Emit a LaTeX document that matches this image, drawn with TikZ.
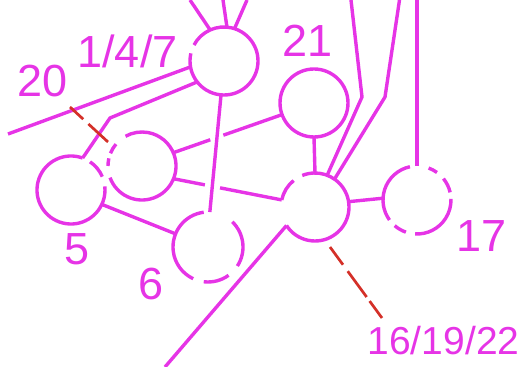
\documentclass[tikz,border=0pt]{standalone}
\usepackage{fontspec}
\setmainfont{Liberation Sans}
\usetikzlibrary{calc}
\definecolor{mag}{RGB}{230,52,230}
\definecolor{redl}{RGB}{212,48,40}
\newcommand{\carc}[4]{\draw[mline] ([shift={(#2:#4pt)}]#1.center) arc[start angle=#2, end angle=#3, radius=#4pt];}
\begin{document}
\begin{tikzpicture}[x=1pt,y=1pt,
  mline/.style={draw=mag,line width=3.4pt},
  circ/.style={circle,minimum size=68pt,inner sep=0pt,outer sep=0pt,draw=none},
  lbl/.style={text=mag,font=\fontsize{45}{50}\selectfont,anchor=base,inner sep=0pt},
  lblsmall/.style={lbl,font=\fontsize{39}{44}\selectfont},
  leader/.style={draw=redl,line width=2.7pt}]
\useasboundingbox (0,0) rectangle (520,367);
% circles (invisible nodes, drawn as arcs)
\node[circ] (c147) at (224,306) {};
\node[circ] (c21) at (314,264) {};
\node[circ] (hub) at (315,160) {};
\node[circ] (c17) at (417,167) {};
\node[circ,minimum size=70pt] (c6) at (208,120) {};
\node[circ] (c5) at (71,177) {};
\node[circ] (c20) at (142,201) {};
\carc{c147}{167}{512}{34}
\draw[mline] (c21.center) circle[radius=34pt];
\carc{hub}{129}{168}{34}
\carc{hub}{213}{472}{34}
\carc{c17}{102}{216}{34}
\carc{c17}{54}{70}{34}
\carc{c17}{13}{39}{34}
\carc{c17}{267}{362}{34}
\carc{c17}{229}{251}{34}
\carc{c6}{97}{245}{35}
\carc{c6}{263}{306}{35}
\carc{c6}{327}{406}{35}
\carc{c5}{70}{366}{34}
\carc{c5}{23}{56}{34}
\carc{c20}{200}{479}{34}
\carc{c20}{140}{158}{34}
\carc{c20}{167}{180}{34}
% free ends
\coordinate (t1) at (190,367);
\coordinate (t2) at (223,367);
\coordinate (t3) at (247,367);
\coordinate (lft) at (8,233);
\coordinate (bend5) at (110,249);
\coordinate (tA) at (351,367);
\coordinate (bA) at (362,270);
\coordinate (tB) at (399.5,367);
\coordinate (bB) at (385,270);
\coordinate (t17) at (417,367);
\coordinate (bot) at (165,0);
\coordinate (r1a) at (70,260);
\coordinate (r1b) at (108,225);
\coordinate (r2a) at (330,120);
\coordinate (r2b) at (382,49);
% connectors
\draw[mline] (t1) -- (c147.114);
\draw[mline] (t2) -- (c147.85);
\draw[mline] (t3) -- (c147.72);
\draw[mline] (lft) -- (c147.190);
\draw[mline] (c147.218) -- (bend5) -- (c5.70);
\draw[mline] (c147.265) -- (c6.87);
\draw[mline] (c20.23) -- ($(c20.23)!0.34!(c21.200)$);
\draw[mline] ($(c20.23)!0.46!(c21.200)$) -- (c21.200);
\draw[mline] (c20.338) -- ($(c20.338)!0.29!(hub.168)$);
\draw[mline] ($(c20.338)!0.43!(hub.168)$) -- (hub.168);
\draw[mline] (c5.335) -- (c6.158);
\draw[mline] (c21.270) -- (hub.90);
\draw[mline] (tA) -- (bA) -- (hub.69);
\draw[mline] (tB) -- (bB) -- (hub.55);
\draw[mline] (t17) -- (c17.90);
\draw[mline] (hub.9) -- (c17.177);
\draw[mline] (hub.213) -- (bot);
\draw[leader,dash pattern=on 18pt off 7pt on 40pt off 7pt] (r1a) -- (r1b);
\draw[leader,dash pattern=on 22pt off 8pt on 32pt off 5pt on 40pt off 5pt] (r2a) -- (r2b);
% labels
\node[lbl] (l147) at (127.5,299) {1/4/7};
\node[lbl] (l20) at (42.5,270) {20};
\node[lbl] (l21) at (307.5,310) {21};
\node[lbl] (l5) at (77.5,102) {5};
\node[lbl] (l6) at (151.5,67) {6};
\node[lbl] (l17) at (481.5,115) {17};
\node[lblsmall] (l16) at (443.5,12) {16/19/22};
\end{tikzpicture}
\end{document}
